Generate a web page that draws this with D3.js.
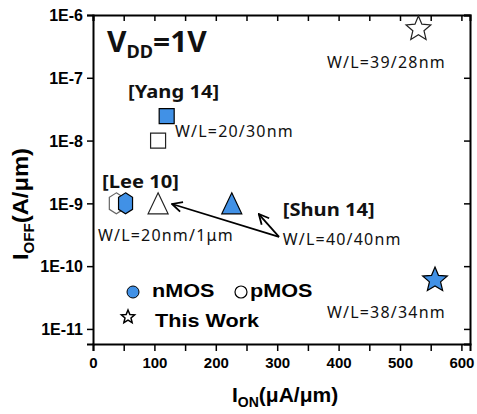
<!DOCTYPE html>
<html><head><meta charset="utf-8">
<script src="https://cdn.jsdelivr.net/npm/d3@7/dist/d3.min.js"></script>
<style>body{margin:0;background:#fff}svg{display:block}</style>
</head><body>
<script>
// ---- data ----
const categories = ["Lee 10","Lee 10","Shun 14","Shun 14","Yang 14","Yang 14","This Work","This Work"];
const deviceType = ["pMOS","nMOS","pMOS","nMOS","pMOS","nMOS","pMOS","nMOS"];
const shapes = ["hexagon","hexagon","triangle","triangle","square","square","star","star"];
const ionValues = [38, 53, 106, 226, 106, 120, 530, 557];          // uA/um
const ioffValues = [1e-9, 1e-9, 1e-9, 1e-9, 1e-8, 2.45e-8, 6e-7, 6e-11]; // A/um
const yTickValues = [1e-6,1e-7,1e-8,1e-9,1e-10,1e-11];
const yTickLabels = ["1E-6","1E-7","1E-8","1E-9","1E-10","1E-11"];
const xTickValues = [0,100,200,300,400,500,600];
const annotationText = ["[Yang 14]","W/L=20/30nm","W/L=39/28nm","[Lee 10]","W/L=20nm/1\u03bcm","[Shun 14]","W/L=40/40nm","W/L=38/34nm"];
const annotationX = [57, 133.5, 381, 14.7, 8, 309, 309, 381];
const annotationY = [10**-7.322, 10**-7.943, 10**-6.844, 10**-8.755, 10**-9.599, 10**-9.2, 10**-9.662, 10**-10.825];
const annotationBold = [true,false,false,true,false,true,false,false];
const arrowFrom = [[303, 10**-9.535],[303, 10**-9.535]];
const arrowTo = [[128.7, 10**-9.01],[270, 10**-9.17]];
const legendLabels = ["nMOS","pMOS","This Work"];

const W = 477, H = 414;
const BLUE = "#4191E6";
const svg = d3.select("body").append("svg").attr("width", W).attr("height", H);
svg.append("rect").attr("width", W).attr("height", H).attr("fill", "#fff");

const x = d3.scaleLinear().domain([0, 614]).range([93, 470]);
const y = d3.scaleLog().domain([10**-11.24, 1e-6]).range([344, 15]);

// ---- axes ----
const axisFont = "'Liberation Sans', Arial, sans-serif";
const gx = svg.append("g").attr("transform", `translate(0,${y.range()[0]})`)
  .call(d3.axisBottom(x).tickValues(d3.range(0, 601, 50)).tickSize(7).tickPadding(4)
     .tickFormat(d => xTickValues.includes(d) ? d : ""));
const gxt = svg.append("g").attr("transform", `translate(0,${y.range()[1]})`)
  .call(d3.axisTop(x).tickValues(d3.range(0, 601, 50)).tickSize(-6).tickFormat(""));
const gy = svg.append("g").attr("transform", `translate(${x.range()[0]},0)`)
  .call(d3.axisLeft(y).tickValues(yTickValues).tickSize(6).tickPadding(4)
     .tickFormat(d => yTickLabels[yTickValues.indexOf(d)]));
const gyr = svg.append("g").attr("transform", `translate(${x.range()[1]},0)`)
  .call(d3.axisRight(y).tickValues(yTickValues).tickSize(-6).tickFormat(""));
[gx,gxt,gy,gyr].forEach(g => {
  g.select(".domain").attr("stroke","#000").attr("stroke-width",2);
  g.selectAll(".tick line").attr("stroke","#000").attr("stroke-width",1.5);
  g.selectAll("text").attr("fill","#000").attr("font-family",axisFont).attr("font-weight","bold");
});
gx.selectAll("text").attr("font-size", 15).attr("dy","0.85em");
gy.selectAll("text").attr("font-size", 16).attr("dy","0.36em");

// ---- shapes ----
function shapePath(kind, big) {
  const p = d3.path();
  if (kind === "square") {
    const s = 15; p.rect(-s/2, -s/2, s, s);
  } else if (kind === "triangle") {
    const w = 20, h = 21; p.moveTo(0,-h/2); p.lineTo(w/2,h/2); p.lineTo(-w/2,h/2); p.closePath();
  } else if (kind === "hexagon") {
    const w = 14, h = 21, c = 4.5;
    p.moveTo(0,-h/2); p.lineTo(w/2,-h/2+c); p.lineTo(w/2,h/2-c); p.lineTo(0,h/2);
    p.lineTo(-w/2,h/2-c); p.lineTo(-w/2,-h/2+c); p.closePath();
  } else if (kind === "star") {
    const R = big ? 13 : 7, r = R*0.45;
    for (let i = 0; i < 10; i++) {
      const a = -Math.PI/2 + i*Math.PI/5, rr = i%2 ? r : R;
      if (i === 0) p.moveTo(rr*Math.cos(a), rr*Math.sin(a)); else p.lineTo(rr*Math.cos(a), rr*Math.sin(a));
    }
    p.closePath();
  }
  return p.toString();
}

const pts = ionValues.map((v,i) => ({x: v, y: ioffValues[i], shape: shapes[i], type: deviceType[i], cat: categories[i]}));
const order = pts.slice().sort((a,b) => (a.type === "pMOS" ? 0 : 1) - (b.type === "pMOS" ? 0 : 1));
svg.append("g").selectAll("path").data(order).join("path")
  .attr("transform", d => `translate(${x(d.x)},${y(d.y)})`)
  .attr("d", d => shapePath(d.shape, true))
  .attr("fill", d => d.type === "nMOS" ? BLUE : "#fff")
  .attr("stroke", d => d.type === "nMOS" ? "#000" : (d.shape === "hexagon" ? "#666" : "#222"))
  .attr("stroke-width", 1.2);

// ---- arrows ----
const defs = svg.append("defs");
defs.append("marker").attr("id","arr").attr("viewBox","0 0 12 12").attr("refX",11).attr("refY",6)
  .attr("markerWidth",12).attr("markerHeight",12).attr("markerUnits","userSpaceOnUse").attr("orient","auto")
  .append("path").attr("d","M1,1 L11,6 L1,11").attr("fill","none").attr("stroke","#000").attr("stroke-width",1.8);
arrowFrom.forEach((f,i) => {
  svg.append("line").attr("x1", x(f[0])).attr("y1", y(f[1])).attr("x2", x(arrowTo[i][0])).attr("y2", y(arrowTo[i][1]))
    .attr("stroke","#000").attr("stroke-width",1.8).attr("marker-end","url(#arr)");
});

// ---- annotations ----
const annFont = "'Noto Sans', 'Open Sans', sans-serif";
annotationText.forEach((t,i) => {
  const tx = x(annotationX[i]), ty = y(annotationY[i]);
  const el = svg.append("text").attr("font-family", annFont).attr("fill","#111").text(t);
  if (annotationBold[i]) {
    el.attr("font-weight","bold").attr("font-size",18).attr("transform",`translate(${tx},${ty}) scale(1.12,1)`);
  } else {
    el.attr("font-size",16).attr("letter-spacing","1.2px").attr("transform",`translate(${tx},${ty})`);
  }
});

// VDD
const vdd = svg.append("text").attr("font-family", annFont).attr("font-weight","bold").attr("fill","#111")
  .attr("transform","translate(107,52) scale(1.07,1)");
vdd.append("tspan").attr("font-size",28).text("V");
vdd.append("tspan").attr("font-size",17).attr("dy",6).text("DD");
vdd.append("tspan").attr("font-size",28).attr("dy",-6).text("=1V");

// ---- legend ----
svg.append("circle").attr("cx",133).attr("cy",292).attr("r",6).attr("fill",BLUE).attr("stroke","#000").attr("stroke-width",1);
svg.append("circle").attr("cx",241).attr("cy",292).attr("r",6).attr("fill","#fff").attr("stroke","#000").attr("stroke-width",1.2);
svg.append("path").attr("transform","translate(128,317)").attr("d",shapePath("star",false)).attr("fill","#fff").attr("stroke","#000").attr("stroke-width",1.5);
const legPos = [[152,297],[250,297],[155,327]];
legendLabels.forEach((t,i) => {
  svg.append("text").attr("font-family",axisFont).attr("font-weight","bold").attr("font-size",18).attr("fill","#000")
    .attr("transform",`translate(${legPos[i][0]},${legPos[i][1]}) scale(1.2,1)`).text(t);
});

// ---- axis titles ----
const xl = svg.append("text").attr("font-family",axisFont).attr("font-weight","bold").attr("fill","#000")
  .attr("transform","translate(232,402)");
xl.append("tspan").attr("font-size",21).text("I");
xl.append("tspan").attr("font-size",14).attr("dy",5).text("ON");
xl.append("tspan").attr("font-size",21).attr("dy",-5).text("(\u03bcA/\u03bcm)");

const yl = svg.append("text").attr("font-family",axisFont).attr("font-weight","bold").attr("fill","#000")
  .attr("text-anchor","middle").attr("transform","translate(28,204) rotate(-90) scale(1.08,1)");
yl.append("tspan").attr("font-size",22).text("I");
yl.append("tspan").attr("font-size",14).attr("dy",6).text("OFF");
yl.append("tspan").attr("font-size",22).attr("dy",-6).text("(A/\u03bcm)");
</script>
</body></html>
